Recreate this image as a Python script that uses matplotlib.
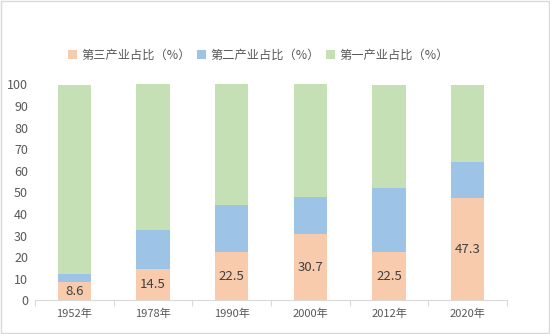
import matplotlib.pyplot as plt
from matplotlib.patches import Rectangle
import numpy as np

plt.rcParams['font.family'] = ['Noto Sans CJK SC', 'DejaVu Sans']

years = ["1952年", "1978年", "1990年", "2000年", "2012年", "2020年"]
tertiary = [8.6, 14.5, 22.5, 30.7, 22.5, 47.3]
secondary = [3.8, 18.1, 21.7, 17.2, 29.7, 16.9]
primary = [87.3, 67.4, 55.8, 52.1, 47.5, 35.5]

c_ter = "#F8CBAD"
c_sec = "#9DC3E6"
c_pri = "#C5E0B4"
grey = "#595959"

fig = plt.figure(figsize=(5.5, 3.34), dpi=100)
ax = fig.add_axes([0.0636, 0.1003, 0.8582, 0.6473])

x = np.arange(len(years))
w = 0.42
ax.bar(x, tertiary, w, color=c_ter, label="第三产业占比（%）")
bottom2 = np.array(tertiary)
ax.bar(x, secondary, w, bottom=bottom2, color=c_sec, label="第二产业占比（%）")
bottom3 = bottom2 + np.array(secondary)
ax.bar(x, primary, w, bottom=bottom3, color=c_pri, label="第一产业占比（%）")

for xi, v in zip(x, tertiary):
    ax.text(xi, v / 2, f"{v}", ha="center", va="center", fontsize=9.5, color="#404040")

ax.set_xlim(-0.5, len(years) - 0.5)
ax.set_ylim(0, 100)
ax.set_yticks(range(0, 101, 10))
ax.tick_params(axis="y", length=0, labelsize=9, labelcolor=grey, pad=5)
ax.set_xticks(x)
ax.set_xticklabels(years)
ax.tick_params(axis="x", length=0, labelsize=8, labelcolor=grey, pad=6)
# category boundary ticks
ax.set_xticks(np.arange(-0.5, len(years)), minor=True)
ax.tick_params(axis="x", which="minor", length=4, color="#D9D9D9", width=0.8)

for s in ["top", "right", "left"]:
    ax.spines[s].set_visible(False)
ax.spines["bottom"].set_color("#D9D9D9")
ax.spines["bottom"].set_linewidth(0.8)

leg = fig.legend(loc="center", bbox_to_anchor=(0.47, 0.835), ncol=3, frameon=False,
                 fontsize=8.8, handlelength=0.7, handleheight=0.7, handletextpad=0.4,
                 columnspacing=0.5)
for t in leg.get_texts():
    t.set_color(grey)

fig.patches.append(Rectangle((0.001, 0.002), 0.997, 0.995, transform=fig.transFigure,
                             fill=False, edgecolor="#D9D9D9", linewidth=1))

fig.savefig("out.png", dpi=100)
plt.close(fig)
